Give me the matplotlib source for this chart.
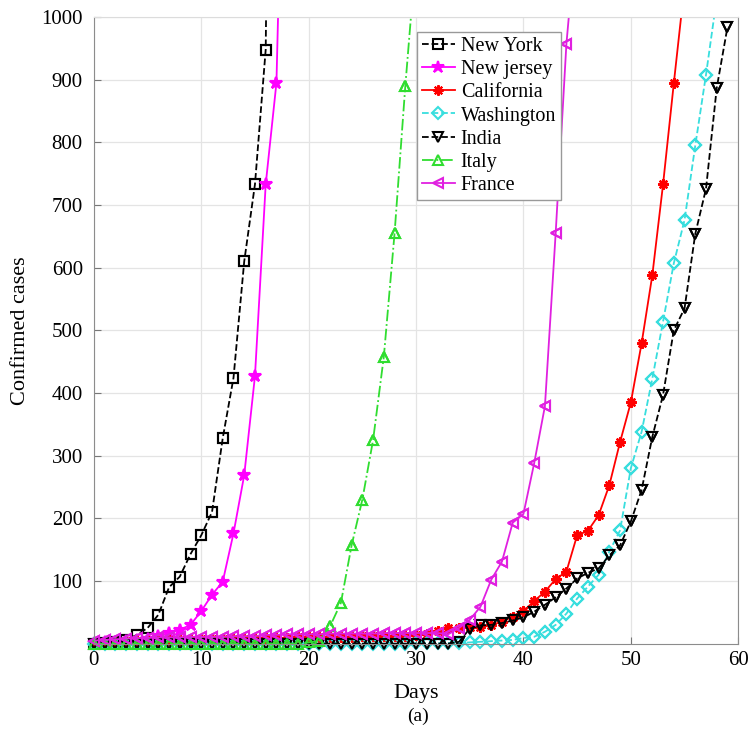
import matplotlib
matplotlib.use('Agg')
import matplotlib.pyplot as plt
import numpy as np

plt.rcParams['font.family'] = ['Liberation Serif', 'DejaVu Serif']

# confirmed cases per day (day 0 first)
new_york = [0, 1, 3, 6, 14, 25, 46, 90, 107, 143, 173, 210, 328, 424, 610, 733, 948, 2500]
new_jersey = [1, 2, 3, 4, 6, 8, 12, 17, 22, 30, 52, 78, 99, 176, 269, 427, 733, 895, 1600]
california = [2, 3, 3, 4, 4, 5, 5, 6, 6, 6, 7, 7, 7, 8, 8, 8, 9, 9, 9, 10,
              10, 10, 11, 11, 11, 12, 12, 12, 13, 13, 14, 15, 20, 25, 25, 26, 27, 30, 35, 43,
              52, 68, 83, 103, 115, 173, 180, 205, 253, 322, 385, 479, 588, 733, 894, 1050]
washington = [0, 0, 0, 0, 0, 0, 0, 0, 0, 0, 0, 0, 0, 0, 0, 0, 0, 0, 0, 0,
              0, 0, 0, 0, 0, 0, 0, 0, 0, 0, 1, 1, 1, 1, 1, 2, 3, 4, 5, 6,
              9, 11, 19, 30, 48, 72, 91, 110, 147, 181, 280, 338, 423, 514, 607, 676, 795, 908, 1030]
india = [0, 0, 0, 0, 0, 0, 0, 0, 0, 0, 0, 0, 0, 0, 0, 0, 0, 0, 0, 0,
         0, 0, 0, 0, 0, 0, 0, 0, 0, 0, 0, 0, 0, 0, 3, 24, 29, 30, 33, 37,
         42, 51, 62, 74, 88, 104, 113, 120, 141, 157, 195, 245, 330, 397, 500, 535, 654, 726, 887, 984]
italy = [0, 0, 0, 0, 0, 0, 0, 0, 0, 0, 0, 0, 0, 0, 0, 0, 0, 0, 0, 0,
         2, 5, 28, 65, 157, 230, 325, 458, 655, 890, 1100]
france = [5, 6, 7, 8, 9, 9, 10, 10, 10, 11, 11, 11, 11, 12, 12, 12,
          14, 14, 15, 15, 15, 15, 16, 16, 16, 16, 16, 17, 17, 17, 17, 17, 17,
          15, 25, 38, 59, 102, 131, 193, 207, 288, 379, 655, 957, 1150]

series = [
    ('New York', new_york, 'k', '--', 's', 'none'),
    ('New jersey', new_jersey, '#ff00ff', '-', '*', '#ff00ff'),
    ('California', california, '#ff0000', '-', (8, 2, 0), 'none'),
    ('Washington', washington, '#38dede', '--', 'D', 'none'),
    ('India', india, 'k', '--', 'v', 'none'),
    ('Italy', italy, '#30dd30', '-.', '^', 'none'),
    ('France', france, '#e020e0', '-', '<', 'none'),
]

fig = plt.figure(figsize=(7.51, 7.39), dpi=100)
ax = fig.add_axes([0.125, 0.129, 0.858, 0.848])

for name, vals, col, ls, mk, fc in series:
    vals = np.array(vals, dtype=float)
    days = np.arange(len(vals))
    ms = 9 if mk == '*' else (6 if mk == 'D' else 7.5)
    ax.plot(days, vals, color=col, ls=ls, lw=1.3, marker=mk, ms=ms,
            mfc=fc, mec=col, mew=1.5, label=name)
    keep = vals <= 1000
    ax.plot(days[keep], vals[keep], ls='none', marker=mk, ms=ms,
            mfc=fc, mec=col, mew=1.5, clip_on=False)

ax.set_xlim(0, 60)
ax.set_ylim(0, 1000)
ax.set_xticks(range(0, 61, 10))
ax.set_yticks(range(100, 1001, 100))
ax.grid(True, color='#e4e4e4', lw=0.9)
ax.set_axisbelow(True)
ax.tick_params(direction='in', length=5, labelsize=15, colors='#777777', labelcolor='k')
ax.tick_params(axis='y', pad=8)
ax.tick_params(axis='x', pad=5)
for s in ['left', 'bottom', 'right']:
    ax.spines[s].set_color('#8c8c8c')
ax.spines['top'].set_color('#dcdcdc')

ax.set_xlabel('Days', fontsize=16, labelpad=10)
ax.set_ylabel('Confirmed cases', fontsize=16, labelpad=8)
fig.text(0.557, 0.024, '(a)', fontsize=14, ha='center')

leg = ax.legend(loc='upper left', bbox_to_anchor=(0.502, 0.976), borderaxespad=0,
                fontsize=14.5, labelspacing=0.2, handlelength=1.6, handletextpad=0.3,
                borderpad=0.25, fancybox=False, framealpha=1)
leg.get_frame().set_edgecolor('#999999')
leg.get_frame().set_linewidth(1.0)

fig.savefig('out.png', dpi=100)
